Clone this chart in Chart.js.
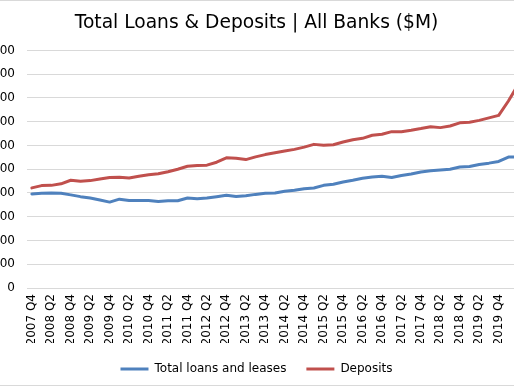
<!DOCTYPE html>
<html lang="en">
<head>
<meta charset="UTF-8">
<title>Total Loans &amp; Deposits | All Banks ($M)</title>
<script src="https://cdn.jsdelivr.net/npm/chart.js"></script>
<style>
  html, body { margin: 0; padding: 0; overflow: hidden; background: #fff; }
  /* chart is wider than the window: y labels and right end are cropped like the original */
  #wrap { position: absolute; left: -54px; top: 0; width: 621px; height: 384px;
          border-top: 1px solid #d9d9d9; border-bottom: 1px solid #d9d9d9; }
</style>
</head>
<body>
<div id="wrap"><canvas id="chart"></canvas></div>

<script>
// quarters, 2007 Q4 .. 2020 Q2
const quarters = [
  '2007 Q4',
  '2008 Q1', '2008 Q2', '2008 Q3', '2008 Q4',
  '2009 Q1', '2009 Q2', '2009 Q3', '2009 Q4',
  '2010 Q1', '2010 Q2', '2010 Q3', '2010 Q4',
  '2011 Q1', '2011 Q2', '2011 Q3', '2011 Q4',
  '2012 Q1', '2012 Q2', '2012 Q3', '2012 Q4',
  '2013 Q1', '2013 Q2', '2013 Q3', '2013 Q4',
  '2014 Q1', '2014 Q2', '2014 Q3', '2014 Q4',
  '2015 Q1', '2015 Q2', '2015 Q3', '2015 Q4',
  '2016 Q1', '2016 Q2', '2016 Q3', '2016 Q4',
  '2017 Q1', '2017 Q2', '2017 Q3', '2017 Q4',
  '2018 Q1', '2018 Q2', '2018 Q3', '2018 Q4',
  '2019 Q1', '2019 Q2', '2019 Q3', '2019 Q4',
  '2020 Q1', '2020 Q2'
];

// $M
const loansAndLeases = [
  7920000,
  7970000, 7990000, 7970000, 7840000,
  7690000, 7570000, 7400000, 7230000,
  7480000, 7370000, 7370000, 7370000,
  7290000, 7350000, 7350000, 7570000,
  7520000, 7570000, 7690000, 7800000,
  7710000, 7770000, 7880000, 7970000,
  7990000, 8140000, 8220000, 8360000,
  8420000, 8640000, 8730000, 8920000,
  9070000, 9240000, 9350000, 9410000,
  9300000, 9470000, 9600000, 9770000,
  9860000, 9940000, 10000000, 10190000,
  10230000, 10400000, 10510000, 10650000,
  11020000, 11020000
];

const deposits = [
  8430000,
  8620000, 8640000, 8770000, 9070000,
  8980000, 9040000, 9180000, 9300000,
  9320000, 9260000, 9410000, 9530000,
  9620000, 9790000, 10000000, 10250000,
  10310000, 10340000, 10590000, 10960000,
  10920000, 10810000, 11040000, 11230000,
  11380000, 11530000, 11670000, 11860000,
  12090000, 12010000, 12060000, 12290000,
  12480000, 12600000, 12860000, 12940000,
  13160000, 13160000, 13280000, 13420000,
  13580000, 13500000, 13640000, 13900000,
  13960000, 14110000, 14320000, 14530000,
  15740000, 17120000
];

const yMin = 0;
const yMax = 20000000;
const yStep = 2000000;
const lastShownLabel = 48; // 2019 Q4, later labels fall off the cropped edge

Chart.defaults.font.family = '"DejaVu Sans", Verdana, sans-serif';
Chart.defaults.font.size = 12;
Chart.defaults.color = '#000';

new Chart(document.getElementById('chart'), {
  type: 'line',
  data: {
    labels: quarters,
    datasets: [
      { label: 'Total loans and leases', data: loansAndLeases, borderWidth: 3,
        borderColor: '#4f81bd', backgroundColor: '#4f81bd' },
      { label: 'Deposits', data: deposits, borderWidth: 3,
        borderColor: '#c0504d', backgroundColor: '#c0504d' }
    ]
  },
  options: {
    responsive: true,
    maintainAspectRatio: false,
    animation: false,
    layout: { padding: 0 },
    elements: {
      point: { radius: 0 },
      line: { tension: 0, borderJoinStyle: 'round', borderCapStyle: 'round' }
    },
    plugins: {
      title: {
        display: true,
        text: 'Total Loans & Deposits | All Banks ($M)',
        color: '#000',
        font: { size: 18.67, weight: 'normal' },
        padding: { top: 11, bottom: 16 }
      },
      legend: {
        position: 'bottom',
        labels: { usePointStyle: true, pointStyle: 'line', pointStyleWidth: 28, padding: 20, color: '#000' }
      },
      tooltip: { enabled: false }
    },
    scales: {
      x: {
        offset: true,
        grid: { display: false, drawTicks: false },
        border: { display: false },
        ticks: {
          autoSkip: false, maxRotation: 90, minRotation: 90, padding: 6,
          callback(v, i) { return (i % 2 === 0 && i <= lastShownLabel) ? this.getLabelForValue(v) : ''; }
        },
        afterFit(s) { s.height = 55; }
      },
      y: {
        min: yMin, max: yMax,
        grid: { color: '#d9d9d9', drawTicks: false },
        border: { display: false },
        ticks: { stepSize: yStep, padding: 12, callback: v => v.toLocaleString('en-US') },
        afterFit(s) { s.width = 81; }
      },
      y2: {
        position: 'right',
        grid: { display: false, drawTicks: false },
        border: { display: false },
        ticks: { display: false },
        afterFit(s) { s.width = 44; }
      }
    }
  }
});
</script>
</body>
</html>
